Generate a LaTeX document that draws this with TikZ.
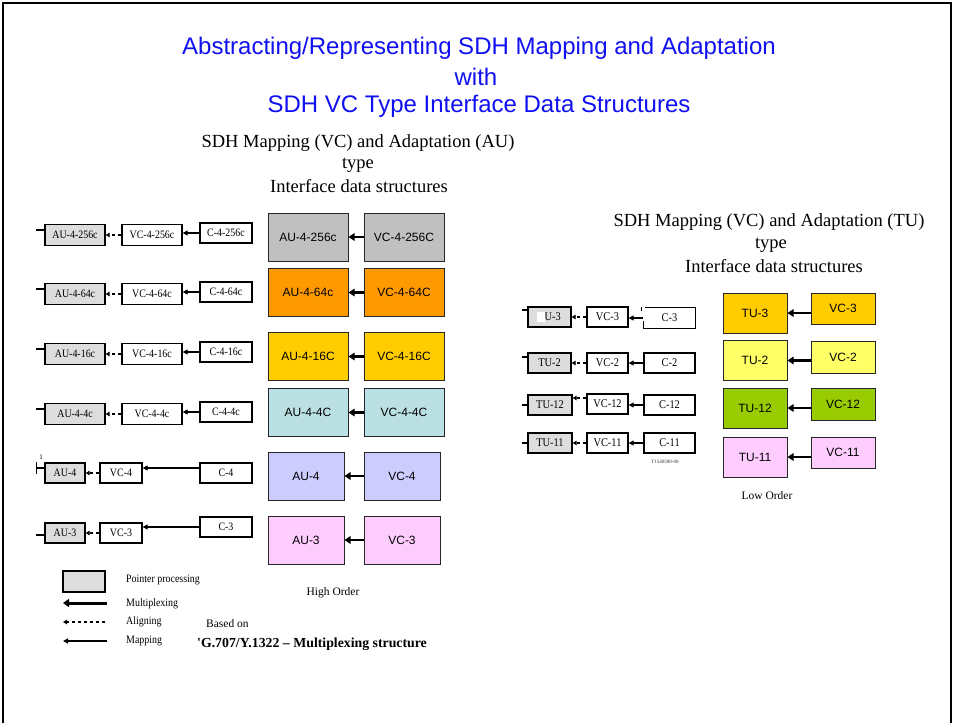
\documentclass[tikz,border=0pt]{standalone}
\usepackage{fontspec}
\setmainfont{Liberation Serif}
\newfontfamily\arialf{Liberation Sans}
\newfontfamily\timesn[FakeStretch=0.88]{Liberation Serif}
\usetikzlibrary{arrows.meta}
\definecolor{ppgray}{HTML}{DDDDDD}
\definecolor{cgray}{HTML}{C0C0C0}
\definecolor{corange}{HTML}{FF9900}
\definecolor{cgold}{HTML}{FFCC00}
\definecolor{cteal}{HTML}{BBE0E3}
\definecolor{clav}{HTML}{CCCCFF}
\definecolor{cpink}{HTML}{FFCCFF}
\definecolor{cyel}{HTML}{FFFF66}
\definecolor{cgreen}{HTML}{99CC00}
\definecolor{tblue}{HTML}{1010F0}
\begin{document}
\begin{tikzpicture}[x=1pt,y=-1pt,
  sb/.style={draw, line width=1.3pt, fill=white, minimum height=20pt, inner sep=0pt, font=\timesn\fontsize{11.3}{12}\selectfont},
  pp/.style={sb, fill=ppgray},
  rsb/.style={sb, font=\timesn\fontsize{11.8}{12}\selectfont},
  rpp/.style={rsb, fill=ppgray},
  cb/.style={draw=black!85, line width=1pt, inner sep=0pt, font=\arialf\fontsize{12}{14}\selectfont},
  mux/.style={line width=2.2pt, -{Triangle[length=6pt,width=7.5pt]}},
  map/.style={line width=1.2pt, -{Triangle[length=5pt,width=5pt]}},
  aln/.style={line width=1.2pt, dash pattern=on 3.5pt off 2.5pt, -{Triangle[length=4pt,width=4.5pt]}},
  stub/.style={line width=2.5pt},
  ttl/.style={font=\arialf\fontsize{24}{28}\selectfont, text=tblue, inner sep=0pt},
  sub/.style={font=\fontsize{18.5}{21}\selectfont, inner sep=0pt},
  lgt/.style={font=\timesn\fontsize{11.3}{12}\selectfont, anchor=west, inner sep=0pt},
  ord/.style={font=\fontsize{11.5}{13}\selectfont, inner sep=0pt}
]
\useasboundingbox (0,0) rectangle (953,723);
\fill[white] (0,0) rectangle (953,723);
% frame
\draw[line width=2pt] (3,723) -- (3,3) -- (951,3) -- (951,723);

% title
\node[ttl] (t1) at (479,48) {Abstracting/Representing SDH Mapping and Adaptation};
\node[ttl] (t2) at (476,77) {with};
\node[ttl] (t3) at (479,106) {SDH VC Type Interface Data Structures};

% subtitles
\node[sub] (s1) at (358,143) {SDH Mapping (VC) and Adaptation (AU)};
\node[sub] (s2) at (358,165) {type};
\node[sub] (s3) at (359,186) {Interface data structures};
\node[sub] (r1) at (769,222) {SDH Mapping (VC) and Adaptation (TU)};
\node[sub] (r2) at (771,245) {type};
\node[sub] (r3) at (774,266) {Interface data structures};

% left small diagram rows 1-4
\foreach \n/\y/\au/\vc/\cc in {1/235/AU-4-256c/VC-4-256c/C-4-256c, 2/294/AU-4-64c/VC-4-64c/C-4-64c, 3/354/AU-4-16c/VC-4-16c/C-4-16c, 4/414/AU-4-4c/VC-4-4c/C-4-4c}{
  \node[pp, minimum width=60pt, minimum height=21pt] (a\n) at (75,\y) {\au};
  \node[sb, minimum width=60pt, minimum height=21pt] (v\n) at (152,\y) {\vc};
  \node[sb, minimum width=52pt] (c\n) at (226,\y-2) {\cc};
  \draw[aln] (v\n.west) -- (a\n.east);
  \draw[map] (c\n.west) -- (c\n.west -| v\n.east);
  \draw[stub] ([yshift=5pt]a\n.west) -- ++(-8,0);
}
% row 5
\node[pp, minimum width=40pt] (a5) at (65,473) {AU-4};
\node[sb, minimum width=42pt] (v5) at (121,473) {VC-4};
\node[sb, minimum width=52pt] (c5) at (226,473) {C-4};
\draw[aln] (v5.west) -- (a5.east);
\draw[map] ([yshift=5pt]c5.west) -- ([yshift=5pt]c5.west -| v5.east);
\draw[stub] ([yshift=5pt]a5.west) -- ++(-8,0) coordinate (k5);
\draw[line width=1.5pt] (k5) ++(0,-6) -- ++(0,12);
\node[font=\fontsize{7}{8}\selectfont, inner sep=0pt] (one) at (41,457) {1};
% row 6
\node[pp, minimum width=40pt] (a6) at (65,533) {AU-3};
\node[sb, minimum width=42pt] (v6) at (121,533) {VC-3};
\node[sb, minimum width=52pt] (c6) at (226,527) {C-3};
\draw[aln] (v6.west) -- (a6.east);
\draw[map] (c6.west) -- (c6.west -| v6.east);
\draw[stub] ([yshift=-2pt]a6.west) -- ++(-8,0);

% left coloured boxes
\foreach \n/\y/\col/\au/\vc in {1/237/cgray/AU-4-256c/VC-4-256C, 2/292.5/corange/AU-4-64c/VC-4-64C, 3/356.5/cgold/AU-4-16C/VC-4-16C, 4/412.5/cteal/AU-4-4C/VC-4-4C}{
  \node[cb, fill=\col, minimum width=80pt, minimum height=48pt] (A\n) at (308,\y) {\au};
  \node[cb, fill=\col, minimum width=80pt, minimum height=48pt] (V\n) at (404,\y) {\vc};
  \draw[mux] (V\n.west) -- (A\n.east);
}
\foreach \n/\y/\col/\au/\vc in {5/476/clav/AU-4/VC-4, 6/540/cpink/AU-3/VC-3}{
  \node[cb, fill=\col, minimum width=76pt, minimum height=48pt] (A\n) at (306,\y) {\au};
  \node[cb, fill=\col, minimum width=76pt, minimum height=48pt] (V\n) at (402,\y) {\vc};
  \draw[mux] (V\n.west) -- (A\n.east);
}
\node[ord] (ho) at (333,593) {High Order};

% right coloured boxes
\foreach \n/\ty/\vy/\vh/\col/\tu/\vc in {3/313/308.5/31/cgold/TU-3/VC-3, 2/360.5/357/32/cyel/TU-2/VC-2, 12/408/404/32/cgreen/TU-12/VC-12, 11/457/452.5/31/cpink/TU-11/VC-11}{
  \node[cb, fill=\col, minimum width=64pt, minimum height=40pt] (T\n) at (755,\ty) {\tu};
  \node[cb, fill=\col, minimum width=64pt, minimum height=\vh pt] (W\n) at (843,\vy) {\vc};
  \draw[mux] (W\n.west |- T\n.east) -- (T\n.east);
}
\node[ord] (lo) at (767,496) {Low Order};

% right small diagram
\node[rpp, minimum width=43pt] (u3) at (549.5,317) {\phantom{T}U-3};
\fill[white] (537,312) rectangle (545,322);
\node[rsb, minimum width=41pt] (x3) at (607.5,317) {VC-3};
\node[rsb, draw=none, fill=none, minimum width=51pt] (y3) at (669.5,318) {C-3};
\draw[line width=1.3pt] ([xshift=2pt]y3.north west) -- (y3.north east) -- (y3.south east) -- (y3.south west) -- ++(0,-8);
\draw[line width=1.3pt] ([xshift=-2pt]y3.north west) -- ++(0,4);
\draw[aln] (x3.west) -- (u3.east);
\draw[map] (y3.west) -- (y3.west -| x3.east);
\draw[line width=2pt] ([yshift=7pt]u3.west) -- ++(-5,0);

\node[rpp, minimum width=43pt] (u2) at (549.5,363) {TU-2};
\node[rsb, minimum width=41pt] (x2) at (607.5,363) {VC-2};
\node[rsb, minimum width=51pt] (y2) at (669.5,363) {C-2};
\draw[aln] (x2.west) -- (u2.east);
\draw[map] (y2.west) -- (x2.east);
\draw[line width=2pt] ([yshift=6pt]u2.west) -- ++(-5,0);

\node[rpp, minimum width=44pt] (u12) at (550,405) {TU-12};
\node[rsb, minimum width=41pt] (x12) at (607.5,404) {VC-12};
\node[rsb, minimum width=51pt] (y12) at (669.5,405) {C-12};
\draw[aln] ([yshift=6pt]x12.west) -- ([yshift=6pt]x12.west -| u12.east);
\draw[map] (y12.west) -- (y12.west -| x12.east);
\draw[line width=2pt] (u12.west) -- ++(-5,0);

\node[rpp, minimum width=44pt] (u11) at (550,443) {TU-11};
\node[rsb, minimum width=41pt] (x11) at (607.5,443) {VC-11};
\node[rsb, minimum width=51pt] (y11) at (669.5,443) {C-11};
\draw[aln] (x11.west) -- (u11.east);
\draw[map] (y11.west) -- (x11.east);
\draw[line width=2pt] (u11.west) -- ++(-5,0);
\node[font=\fontsize{5}{6}\selectfont, inner sep=0pt, text=black!80] (tcode) at (665,462) {T1540590-00};

% legend
\node[pp, minimum width=42pt, minimum height=21pt] (lg) at (84,581.5) {};
\coordinate (m1) at (107,603); \coordinate (m2) at (63,603);
\coordinate (al1) at (105,622); \coordinate (al2) at (63,622);
\coordinate (mp1) at (107,641); \coordinate (mp2) at (63,641);
\draw[line width=3pt, -{Triangle[length=6pt,width=8pt]}] (m1) -- (m2);
\draw[aln, line width=1.5pt] (al1) -- (al2);
\draw[map, line width=1.6pt] (mp1) -- (mp2);
\node[lgt] (l1) at (126,580) {Pointer processing};
\node[lgt] (l2) at (126,604) {Multiplexing};
\node[lgt] (l3) at (126,622) {Aligning};
\node[lgt] (l4) at (126,641) {Mapping};
\node[font=\fontsize{11.5}{13}\selectfont, anchor=west, inner sep=0pt] (bo) at (206,624) {Based on};
\node[font=\bfseries\fontsize{13.8}{15}\selectfont, anchor=west, inner sep=0pt] (gr) at (197,644) {\textquotesingle G.707/Y.1322 – Multiplexing structure};
\end{tikzpicture}
\end{document}
